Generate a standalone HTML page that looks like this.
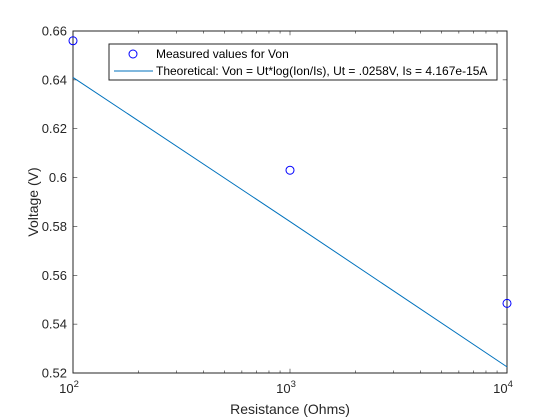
<!DOCTYPE html>
<html><head><meta charset="utf-8"><style>
body{margin:0;background:#fff;}
svg{display:block;font-family:"Liberation Sans",Arial,sans-serif;}
</style></head><body>
<svg id="chart" width="560" height="420">
<rect x="0" y="0" width="560" height="420" fill="#fff"/>
<g id="g"></g>
</svg>
<script>
const measuredR=[100,1000,10000];
const measuredV=[0.656,0.603,0.5485];
const theoR=[100,1000,10000];
const theoV=[0.641,0.582,0.5225];
const yTicks=[0.52,0.54,0.56,0.58,0.6,0.62,0.64,0.66];
const yTickLabels=["0.52","0.54","0.56","0.58","0.6","0.62","0.64","0.66"];
const xDecades=[2,3,4];

const L=73,R=507,T=31,B=373;
const xs=v=>L+(Math.log10(v)-2)/2*(R-L);
const ys=v=>B-(v-0.52)/0.14*(B-T);
const NS="http://www.w3.org/2000/svg";
const g=document.getElementById('g');
function mk(t,a,txt){const e=document.createElementNS(NS,t);for(const k in a)e.setAttribute(k,a[k]);if(txt!=null)e.textContent=txt;g.appendChild(e);return e;}

yTicks.forEach((v,i)=>{
 const y=ys(v);
 let e=mk('line',{x1:L,x2:L+4.3,y1:y,y2:y,stroke:'#262626','stroke-width':0.6});
 
 e=mk('line',{x1:R,x2:R-4.3,y1:y,y2:y,stroke:'#262626','stroke-width':0.6});
 
 e=mk('text',{x:L-6,y:y+4.5,'text-anchor':'end','font-size':13,fill:'#262626'},yTickLabels[i]);
 
});
for(let d=2;d<4;d++){for(let m=1;m<10;m++){
 const x=xs(m*Math.pow(10,d));const len=m===1?4.3:2.5;
 mk('line',{x1:x,x2:x,y1:B,y2:B-len,stroke:'#262626','stroke-width':0.6});
 mk('line',{x1:x,x2:x,y1:T,y2:T+len,stroke:'#262626','stroke-width':0.6});
}}
xDecades.forEach(d=>{
 const x=xs(Math.pow(10,d));
 const e=mk('text',{x:x-4,y:B+20,'text-anchor':'middle','font-size':13,fill:'#262626'});
 
 e.innerHTML='10<tspan font-size="9.5" dy="-6">'+d+'</tspan>';
});
let box=mk('rect',{x:L,y:T,width:R-L,height:B-T,fill:'none',stroke:'#262626','stroke-width':1});

let ln=mk('polyline',{points:theoR.map((r,i)=>xs(r)+','+ys(theoV[i])).join(' '),fill:'none',stroke:'#0072bd','stroke-width':1});

measuredR.forEach((r,i)=>{
 const c=mk('circle',{cx:xs(r),cy:ys(measuredV[i]),r:4,fill:'none',stroke:'#0000ff','stroke-width':1});
 
});
</script>
<svg style="position:absolute;left:0;top:0" width="560" height="420">
<text x="290" y="414" text-anchor="middle" font-size="14" fill="#262626">Resistance (Ohms)</text>
<text transform="translate(38,202) rotate(-90)" text-anchor="middle" font-size="14" fill="#262626">Voltage (V)</text>
<g>
<rect x="109" y="44" width="388" height="36" fill="#fff" stroke="#262626" stroke-width="1"/>
<circle cx="133" cy="54" r="4" fill="none" stroke="#0000ff"/>
<text x="156" y="58" font-size="12" fill="#000">Measured values for Von</text>
<line x1="114" x2="153" y1="71" y2="71" stroke="#0072bd"/>
<text x="156" y="75" font-size="12" fill="#000">Theoretical: Von = Ut*log(Ion/Is), Ut = .0258V, Is = 4.167e-15A</text>
</g>
</svg>
</body></html>
